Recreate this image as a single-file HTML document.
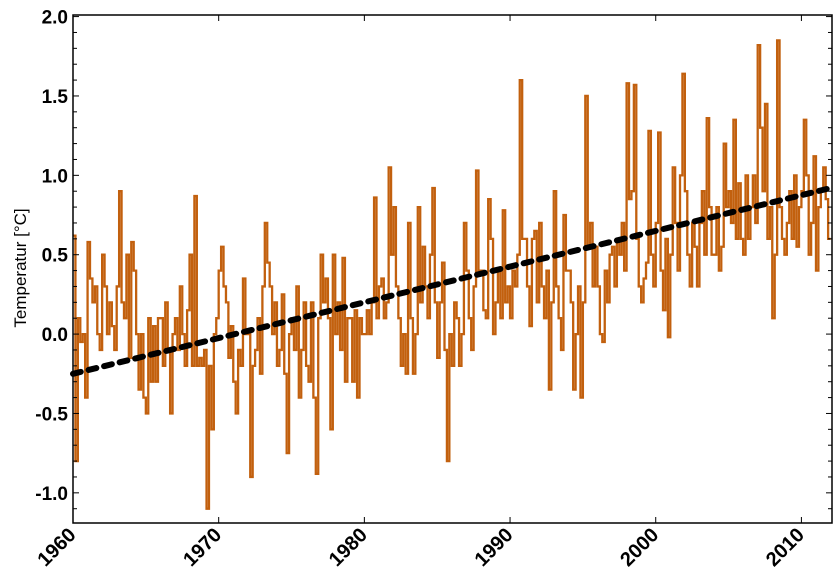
<!DOCTYPE html>
<html><head><meta charset="utf-8"><style>
body{margin:0;background:#fff;}
svg text{font-family:"Liberation Sans",sans-serif;}
</style></head><body>
<svg id="chart" width="840" height="581" viewBox="0 0 840 581" xmlns="http://www.w3.org/2000/svg">
<g id="series"></g>
<g id="trend"></g>
<g id="axes"></g>
<text transform="translate(26,268) rotate(-90)" text-anchor="middle" font-size="17" fill="#000">Temperatur [°C]</text>
</svg>
<script>
const startYear = [1960];
const stepsPerYear = [6];
const temps = [
0.62,-0.8,0.1,-0.05,0.0,-0.4,
0.58,0.35,0.2,0.3,0.0,-0.1,
0.5,0.3,0.0,0.2,0.05,-0.1,
0.3,0.9,0.2,0.1,0.5,-0.15,
0.58,0.4,0.0,-0.35,0.0,-0.4,
-0.5,0.1,-0.3,0.05,-0.3,0.1,
0.1,-0.2,0.2,-0.1,-0.5,0.0,
0.1,-0.1,0.3,0.0,-0.2,0.15,
0.5,-0.2,0.87,-0.2,-0.15,-0.2,
-0.1,-1.1,-0.2,-0.6,0.0,0.1,
0.4,0.55,0.3,0.2,-0.15,0.05,
-0.3,-0.5,-0.1,-0.2,0.35,0.0,
0.0,-0.9,-0.2,-0.1,0.1,-0.25,
0.3,0.7,0.45,0.3,0.0,0.2,
-0.2,-0.1,0.25,-0.25,-0.75,0.0,
0.1,-0.1,0.3,-0.4,-0.1,0.2,
-0.2,-0.3,0.2,-0.4,-0.88,0.1,
0.5,0.2,0.35,0.1,-0.6,0.5,
0.0,0.2,-0.1,0.48,-0.3,0.1,
0.1,-0.3,0.15,-0.4,0.1,0.0,
0.0,0.15,0.0,0.2,0.86,0.1,
0.3,0.35,0.1,0.2,1.05,0.5,
0.8,0.3,0.1,-0.2,0.0,-0.25,
0.7,0.1,-0.25,0.0,0.8,0.2,
0.55,0.3,0.1,0.5,0.92,0.2,
-0.15,0.2,0.45,-0.1,-0.8,0.0,
-0.2,0.2,0.1,-0.2,0.0,0.7,
0.4,0.1,-0.1,0.3,1.03,0.4,
0.4,0.15,0.1,0.85,0.6,0.0,
0.2,0.4,0.1,0.78,0.2,0.3,
0.1,0.4,0.3,0.5,1.6,0.6,
0.6,0.3,0.05,0.6,0.65,0.2,
0.7,0.3,0.1,0.4,-0.35,0.2,
0.9,0.3,0.1,-0.1,0.75,0.4,
0.4,0.2,-0.35,0.0,0.3,-0.4,
0.2,1.5,0.55,0.7,0.3,0.55,
0.3,0.0,-0.05,0.4,0.2,0.5,
0.55,0.3,0.6,0.5,0.7,0.4,
1.58,0.85,0.9,1.57,0.6,0.3,
0.2,0.35,0.45,1.28,0.5,0.3,
0.7,1.27,0.4,0.15,0.6,-0.02,
0.5,1.05,0.7,0.4,1.0,1.64,
0.9,0.5,0.3,0.7,0.55,0.3,
0.7,0.9,0.5,1.36,0.8,0.5,
0.5,0.8,0.4,0.55,1.2,0.8,
0.9,0.7,1.35,0.6,0.95,0.6,
0.5,1.0,0.6,0.8,1.0,0.7,
1.82,1.3,0.9,1.45,0.6,0.8,
0.1,0.5,1.85,0.8,0.6,0.5,
0.7,0.9,0.6,1.0,0.55,0.8,
0.9,1.35,1.0,0.5,0.7,1.12,
0.4,0.8,0.9,1.05,0.85,0.6
];
const trendYears = [1960, 2012];
const trendValues = [-0.25, 0.92];
const xTicks = [1960, 1970, 1980, 1990, 2000, 2010];
const yTicks = [-1.0, -0.5, 0.0, 0.5, 1.0, 1.5, 2.0];
const yTickLabels = ["-1.0", "-0.5", "0.0", "0.5", "1.0", "1.5", "2.0"];

const L=73, R=832, T=15, B=523;
const X0=1960, X1=2012.1, Y0=-1.19, Y1=2.01;
function sx(v){return L+(v-X0)/(X1-X0)*(R-L);}
function sy(v){return B-(v-Y0)/(Y1-Y0)*(B-T);}
const NS="http://www.w3.org/2000/svg";
function mk(tag, attrs, parent){const e=document.createElementNS(NS,tag);for(const k in attrs)e.setAttribute(k,attrs[k]);parent.appendChild(e);return e;}

const sg=document.getElementById('series');
let d="";
for(let i=0;i<temps.length;i++){
  const t0=startYear[0]+i/stepsPerYear[0], t1=startYear[0]+(i+1)/stepsPerYear[0];
  const y=sy(temps[i]);
  if(i===0) d+="M"+sx(t0).toFixed(2)+" "+y.toFixed(2); else d+="V"+y.toFixed(2);
  d+="H"+sx(t1).toFixed(2);
}
const sp=mk('path',{d:d,fill:'none',stroke:'#c2600e','stroke-width':2.3,'stroke-linejoin':'miter'},sg);



const tg=document.getElementById('trend');
const tl=mk('line',{x1:sx(trendYears[0]),y1:sy(trendValues[0]),x2:sx(trendYears[1]),y2:sy(trendValues[1]),stroke:'#000','stroke-width':6,'stroke-dasharray':'8 8','stroke-linecap':'round'},tg);



const ag=document.getElementById('axes');
const fr=mk('rect',{x:L,y:T,width:R-L,height:B-T,fill:'none',stroke:'#000','stroke-width':1.5},ag);


for(let v=-11; v<=20; v++){
  const y=sy(v/10); const major=(v%5===0); const len=major?6:4;
  mk('line',{x1:L,y1:y,x2:L+len,y2:y,stroke:'#000','stroke-width':1},ag);
  mk('line',{x1:R,y1:y,x2:R-len,y2:y,stroke:'#000','stroke-width':1},ag);
}
yTicks.forEach((v,i)=>{
  const t=mk('text',{x:L-5,y:sy(v)+7,'text-anchor':'end','font-size':19,'font-weight':'bold',fill:'#000'},ag);
  t.textContent=yTickLabels[i];
  
  
});
xTicks.forEach(v=>{
  const x=sx(v);
  mk('line',{x1:x,y1:B,x2:x,y2:B-6,stroke:'#000','stroke-width':1},ag);
  mk('line',{x1:x,y1:T,x2:x,y2:T+6,stroke:'#000','stroke-width':1},ag);
  const t=mk('text',{transform:'translate('+(x+4)+','+(B+13)+') rotate(-45)','text-anchor':'end','font-size':20,'font-weight':'bold',fill:'#000'},ag);
  t.textContent=String(v);
  
  
});
</script>
</body></html>
